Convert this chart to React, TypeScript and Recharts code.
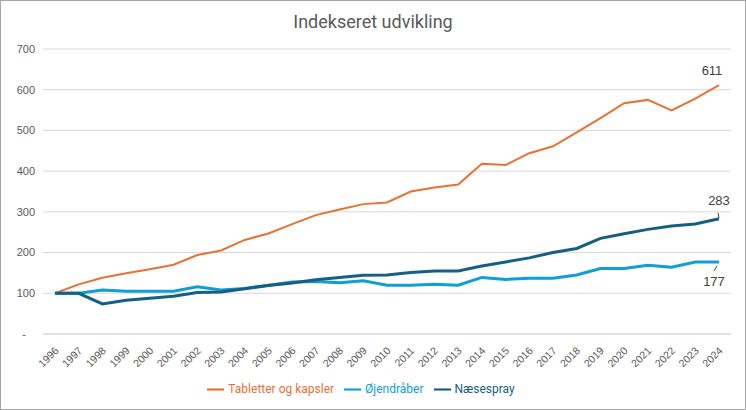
import React from 'react';
import { LineChart, Line, XAxis, YAxis, CartesianGrid, Legend } from 'recharts';

const years = [
  '1996', '1997', '1998', '1999', '2000', '2001', '2002', '2003', '2004', '2005',
  '2006', '2007', '2008', '2009', '2010', '2011', '2012', '2013', '2014', '2015',
  '2016', '2017', '2018', '2019', '2020', '2021', '2022', '2023', '2024',
];
const tabletter = [100, 122, 138, 149, 159, 170, 194, 205, 231, 247, 270, 292, 306, 319, 323, 350, 360, 367, 418, 415, 444, 461, 495, 530, 567, 575, 549, 578, 611];
const ojendraaber = [100, 100, 108, 105, 105, 105, 116, 108, 112, 120, 128, 129, 126, 131, 120, 120, 122, 120, 139, 134, 137, 137, 145, 161, 161, 169, 164, 177, 177];
const naesespray = [100, 100, 74, 83, 88, 93, 102, 103, 111, 119, 125, 133, 139, 144, 145, 151, 155, 155, 167, 177, 187, 200, 210, 235, 246, 257, 265, 270, 283];
const yTicks = [0, 100, 200, 300, 400, 500, 600, 700];
const seriesOrder = ['tabletter', 'ojendraaber', 'naesespray'];

const data = years.map((year, i) => ({
  year,
  tabletter: tabletter[i],
  ojendraaber: ojendraaber[i],
  naesespray: naesespray[i],
}));

const FONT = "'Roboto', sans-serif";
const TICK_FONT = "'Liberation Sans', Arial, sans-serif";
const LAST = years.length - 1;

// end-of-line labels, like the Excel data labels
const endLabel = (pos: 'above' | 'leaderUp' | 'leaderDown') => (props: any) => {
  const { x, y, index, value } = props;
  if (index !== LAST) return null;
  const style = { fontFamily: TICK_FONT, fontSize: 13, fill: '#404040' };
  if (pos === 'above') {
    return (
      <text x={x - 7} y={y - 14} textAnchor="middle" dominantBaseline="middle" style={style}>
        {value}
      </text>
    );
  }
  if (pos === 'leaderUp') {
    return (
      <g>
        <line x1={x} y1={y - 1} x2={x - 1} y2={y - 6} stroke="#404040" strokeWidth={1} />
        <text x={x} y={y - 17} textAnchor="middle" dominantBaseline="middle" style={style}>
          {value}
        </text>
      </g>
    );
  }
  return (
    <g>
      <line x1={x - 2} y1={y + 4} x2={x - 5} y2={y + 9} stroke="#404040" strokeWidth={1} />
      <text x={x - 5} y={y + 21} textAnchor="middle" dominantBaseline="middle" style={style}>
        {value}
      </text>
    </g>
  );
};

export default function App() {
  return (
    <div
      style={{
        position: 'absolute',
        left: 0,
        top: 0,
        width: 746,
        height: 410,
        boxSizing: 'border-box',
        border: '1px solid #a6a6a6',
        background: '#fff',
        fontFamily: FONT,
      }}
    >
      <div
        style={{
          position: 'absolute',
          top: 10,
          left: 0,
          width: '100%',
          textAlign: 'center',
          fontSize: 18,
          color: '#595959',
        }}
      >
        Indekseret udvikling
      </div>
      <LineChart
        width={744}
        height={408}
        data={data}
        margin={{ top: 48, right: 14, left: 0, bottom: 8 }}
      >
        <CartesianGrid vertical={false} stroke="#d9d9d9" />
        <XAxis
          dataKey="year"
          interval={0}
          padding={{ left: 12, right: 12 }}
          axisLine={{ stroke: '#d9d9d9' }}
          tickLine={false}
          height={47}
          angle={-45}
          textAnchor="end"
          tick={{ fontSize: 10.5, fill: '#595959', fontFamily: TICK_FONT }}
          dx={-1}
          dy={4}
        />
        <YAxis
          width={42}
          domain={[0, 700]}
          ticks={yTicks}
          axisLine={false}
          tickLine={false}
          tickFormatter={(v: number) => (v === 0 ? '-\u00a0\u00a0\u00a0' : String(v))}
          tick={{ fontSize: 11, fill: '#595959', fontFamily: TICK_FONT }}
        />
        <Legend
          verticalAlign="bottom"
          height={20}
          iconSize={17}
          itemSorter={(item: any) => seriesOrder.indexOf(item.dataKey)}
          wrapperStyle={{ fontSize: 12, color: '#595959', fontFamily: FONT }}
        />
        <Line
          type="linear"
          dataKey="tabletter"
          name="Tabletter og kapsler"
          stroke="#E97132"
          strokeWidth={2}
          dot={false}
          legendType="plainline"
          isAnimationActive={false}
          label={endLabel('above')}
        />
        <Line
          type="linear"
          dataKey="ojendraaber"
          name="Øjendråber"
          stroke="#0F9ED5"
          strokeWidth={3}
          dot={false}
          legendType="plainline"
          isAnimationActive={false}
          label={endLabel('leaderDown')}
        />
        <Line
          type="linear"
          dataKey="naesespray"
          name="Næsespray"
          stroke="#156082"
          strokeWidth={3}
          dot={false}
          legendType="plainline"
          isAnimationActive={false}
          label={endLabel('leaderUp')}
        />
      </LineChart>
    </div>
  );
}
